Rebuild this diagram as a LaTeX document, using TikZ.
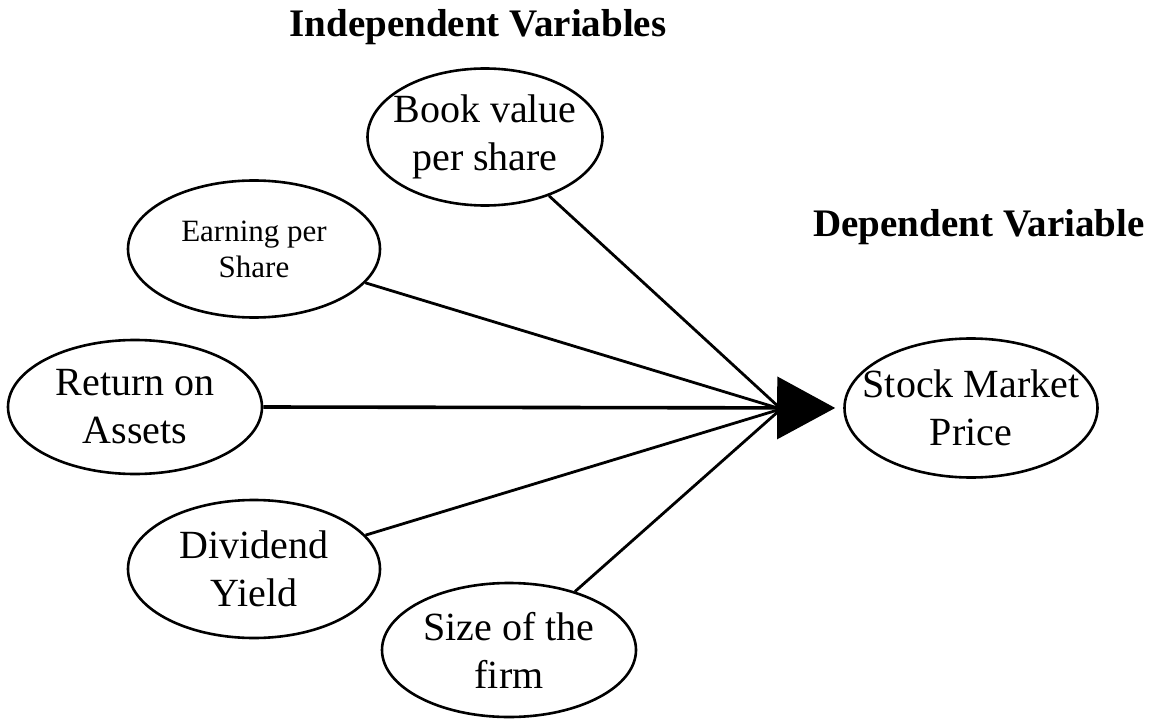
\documentclass[tikz,border=0pt]{standalone}
\usepackage{fontspec}
\setmainfont{Liberation Serif}
\usetikzlibrary{shapes.geometric,arrows.meta}
\begin{document}
\begin{tikzpicture}[x=1pt,y=-1pt,
  oval/.style={draw,ellipse,line width=2.6pt,inner sep=0pt},
  txt/.style={align=center,inner sep=0pt,font=\fontsize{40}{48}\selectfont},
  small/.style={font=\fontsize{31}{36}\selectfont},
  title/.style={font=\fontsize{39}{46}\selectfont\bfseries},
  link/.style={line width=2.8pt}]
\useasboundingbox (0,0) rectangle (1158,719);
\node[title] (indep) at (478,27) {Independent Variables};
\node[title] (dep) at (979,227) {Dependent Variable};
\node[oval,minimum width=235pt,minimum height=137pt] (bvps) at (485,137) {};
\node[txt] (bvpsT) at (bvps) {Book value\\per share};
\node[oval,minimum width=252pt,minimum height=137pt] (eps) at (254,249) {};
\node[txt,small] (epsT) at (eps) {Earning per\\Share};
\node[oval,minimum width=254pt,minimum height=134pt] (roa) at (135,407) {};
\node[txt] (roaT) at (roa) {Return on\\Assets};
\node[oval,minimum width=252pt,minimum height=138pt] (dy) at (254,569) {};
\node[txt] (dyT) at (dy) {Dividend\\Yield};
\node[oval,minimum width=254pt,minimum height=134pt] (size) at (509,650) {};
\node[txt] (sizeT) at (size) {Size of the\\firm};
\node[oval,minimum width=253pt,minimum height=139pt] (smp) at (971,408) {};
\node[txt] (smpT) at (smp) {Stock Market\\Price};
\coordinate (hub) at (781,409);
\draw[link,line width=3.6pt,-{Triangle[length=58pt,width=62pt]},shorten >=8pt] (roa.east) -- (smp.west);
\draw[link] (bvps) -- (hub);
\draw[link] (eps) -- (hub);
\draw[link] (dy) -- (hub);
\draw[link] (size) -- (hub);
\end{tikzpicture}
\end{document}
